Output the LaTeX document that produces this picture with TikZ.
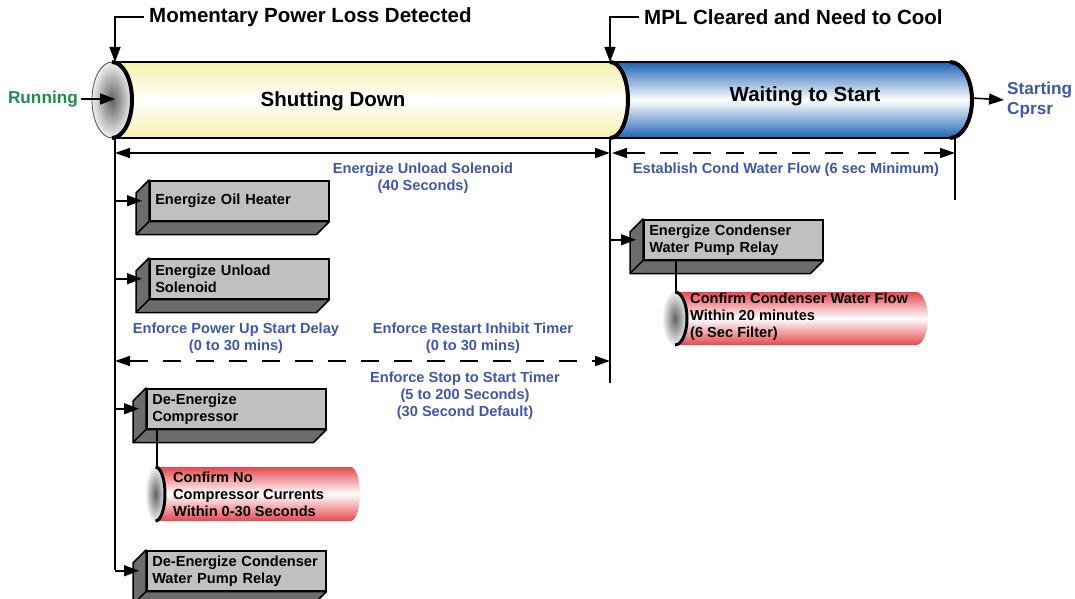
\documentclass[tikz,border=0pt]{standalone}
\usepackage{fontspec}
\setmainfont{Liberation Sans}
\usepackage{xcolor}
\usepackage{tikz}
\usetikzlibrary{arrows.meta, calc}
\definecolor{MPLBlue}{RGB}{64, 86, 168}
\definecolor{MPLGreen}{RGB}{30, 140, 80}
\definecolor{ShutYellow}{RGB}{246, 240, 170}
\definecolor{WaitBlue}{RGB}{30, 100, 180}
\definecolor{ConfRed}{RGB}{228, 72, 78}
\definecolor{FaceGrey}{RGB}{192, 192, 192}
\definecolor{SideGrey}{RGB}{108, 108, 108}

\tikzset{
  arr/.style={line width=1.5pt, -{Triangle[length=15pt, width=11pt]}},
  arrboth/.style={line width=1.5pt, {Triangle[length=15pt, width=10pt]}-{Triangle[length=15pt, width=10pt]}},
  dashboth/.style={arrboth, dash pattern=on 18pt off 15pt},
  bigtxt/.style={font=\fontsize{20.5}{24}\selectfont\bfseries},
  smalltxt/.style={font=\fontsize{14.6}{17}\selectfont\bfseries, inner sep=0pt, align=left},
  timetxt/.style={smalltxt, text=MPLBlue, align=center},
  taskbox/.style={draw=black, line width=1.5pt, fill=FaceGrey, anchor=north west,
    minimum width=179pt, minimum height=40pt, text width=168pt, inner xsep=5.5pt,
    inner ysep=0pt, align=left, font=\fontsize{14.6}{17}\selectfont\bfseries},
  capshade/.style={inner color=black!62, outer color=black!6},
}

\begin{document}
\begin{tikzpicture}[x=1pt, y=-1pt]
  \useasboundingbox (0,0) rectangle (1075,599);
  \clip (0,0) rectangle (1075,599);

  \coordinate (capTop) at (115,62);
  \coordinate (capIn) at (115,99);
  \coordinate (clrTop) at (610,62);
  \coordinate (leftFoot) at (115,138);
  \coordinate (midFoot) at (610,138);
  \coordinate (midEnd) at (610,383);
  \coordinate (rightFoot) at (955,138);
  \coordinate (rightEnd) at (955,200);
  \coordinate (blueEnd) at (972,98);
  \coordinate (unlL) at (115,153);
  \coordinate (unlR) at (610,153);
  \coordinate (flowL) at (612,153);
  \coordinate (flowR) at (955,153);
  \coordinate (delayL) at (115,361);
  \coordinate (delayR) at (610,361);
  \coordinate (ccTop) at (157,467);
  \coordinate (cfTop) at (676,292);

  % main timeline cylinder
  \shade[top color=WaitBlue, bottom color=WaitBlue, middle color=white]
    (600,62) -- (950,62) arc[start angle=-90, end angle=90, x radius=22, y radius=38] -- (600,138) -- cycle;
  \shade[top color=ShutYellow, bottom color=ShutYellow, middle color=white]
    (112,62) -- (610,62) arc[start angle=-90, end angle=90, x radius=18, y radius=38] -- (112,138) -- cycle;
  \draw[line width=1.5pt] (112,62) -- (950,62) (112,138) -- (950,138);
  \draw[line width=4pt] (610,62) arc[start angle=-90, end angle=90, x radius=18, y radius=38]
    (950,62) arc[start angle=-90, end angle=90, x radius=22, y radius=38];
  \shade[capshade] (112,100) circle[x radius=20, y radius=38];
  \draw[line width=0.8pt, gray!60!black] (112,100) circle[x radius=20, y radius=38];
  \draw[line width=4pt] (112,62) arc[start angle=-90, end angle=90, x radius=20, y radius=38];

  \node[bigtxt] (shut) at (333,101) {Shutting Down};
  \node[bigtxt] (wait) at (805,96) {Waiting to Start};

  \node[bigtxt, anchor=west, inner sep=5pt] (mpl) at (144,17) {Momentary Power Loss Detected};
  \draw[arr] (mpl.west) -| (capTop);
  \node[bigtxt, anchor=west, inner sep=5pt] (clr) at (639,17) {MPL Cleared and Need to Cool};
  \draw[arr] (clr.west) -| (clrTop);

  \node[font=\fontsize{17.2}{20}\selectfont\bfseries, text=MPLGreen, anchor=east, inner sep=3pt]
    (run) at (81,99) {Running};
  \draw[arr] (run.east) -- (capIn);
  \node[font=\fontsize{17.2}{20}\selectfont\bfseries, text=MPLBlue, anchor=west, align=left, inner sep=3pt]
    (start) at (1004,100) {Starting\\Cprsr};
  \draw[arr] (blueEnd) -- (start.west);

  % time spans
  \draw[line width=1.5pt] (leftFoot) -- (115,570);
  \draw[line width=1.5pt] (midFoot) -- (midEnd);
  \draw[line width=1.5pt] (rightFoot) -- (rightEnd);
  \draw[arrboth] (unlL) -- (unlR);
  \draw[dashboth] (flowL) -- (flowR);
  \draw[dashboth] (delayL) -- (delayR);

  \node[timetxt] (unlTime) at (423,178) {Energize Unload Solenoid\\(40 Seconds)};
  \node[timetxt] (flowTime) at (786,170) {Establish Cond Water Flow (6 sec Minimum)};
  \node[timetxt] (pwrTime) at (236,338) {Enforce Power Up Start Delay\\(0 to 30 mins)};
  \node[timetxt] (inhTime) at (473,338) {Enforce Restart Inhibit Timer\\(0 to 30 mins)};
  \node[timetxt] (stsTime) at (465,396) {Enforce Stop to Start Timer\\(5 to 200 Seconds)\\(30 Second Default)};

  % task boxes
  \node[taskbox] (oil) at (149,180) {Energize Oil Heater};
  \node[taskbox] (unload) at (149,258) {Energize Unload\\Solenoid};
  \node[taskbox] (cwpump) at (643,219) {Energize Condenser\\Water Pump Relay};
  \node[taskbox] (decomp) at (146,388) {De-Energize\\Compressor};
  \node[taskbox] (decwp) at (146,550) {De-Energize Condenser\\Water Pump Relay};
  \foreach \b in {oil, unload, cwpump, decomp, decwp} {
    \filldraw[fill=SideGrey, line width=1.5pt, line join=round]
      (\b.north west) -- ++(-13,13) |- ([shift={(-13,13)}]\b.south east) -- (\b.south east)
      -- (\b.south west) -- cycle;
    \draw[line width=1.5pt] (\b.south west) -- ++(-13,13);
  }
  \foreach \b in {oil, unload, decomp, decwp}
    \draw[arr] (\b.west -| leftFoot) -- ([xshift=-7pt]\b.west);
  \draw[arr] (cwpump.west -| midFoot) -- ([xshift=-7pt]cwpump.west);

  % confirm cylinders
  \foreach \cx/\cy/\rx/\ry/\xe in {155.5/494/9.5/27/360, 675/318.5/12/26.5/928} {
    \shade[top color=ConfRed, bottom color=ConfRed, middle color=white]
      (\cx,\cy-\ry) -- (\xe-\rx,\cy-\ry) arc[start angle=-90, end angle=90, x radius=\rx, y radius=\ry]
      -- (\cx,\cy+\ry) -- cycle;
    \shade[capshade] (\cx,\cy) circle[x radius=\rx, y radius=\ry];
    \draw[line width=3pt] (\cx,\cy-\ry) arc[start angle=-90, end angle=90, x radius=\rx, y radius=\ry];
  }
  \draw[line width=1.5pt] (decomp.south -| ccTop) -- (ccTop);
  \draw[line width=1.5pt] (cwpump.south -| cfTop) -- (cfTop);
  \node[smalltxt, anchor=west] (ccText) at (173,494) {Confirm No\\Compressor Currents\\Within 0-30 Seconds};
  \node[smalltxt, anchor=west] (cfText) at (690,317) {Confirm Condenser Water Flow\\Within 20 minutes\\(6 Sec Filter)};
\end{tikzpicture}
\end{document}
